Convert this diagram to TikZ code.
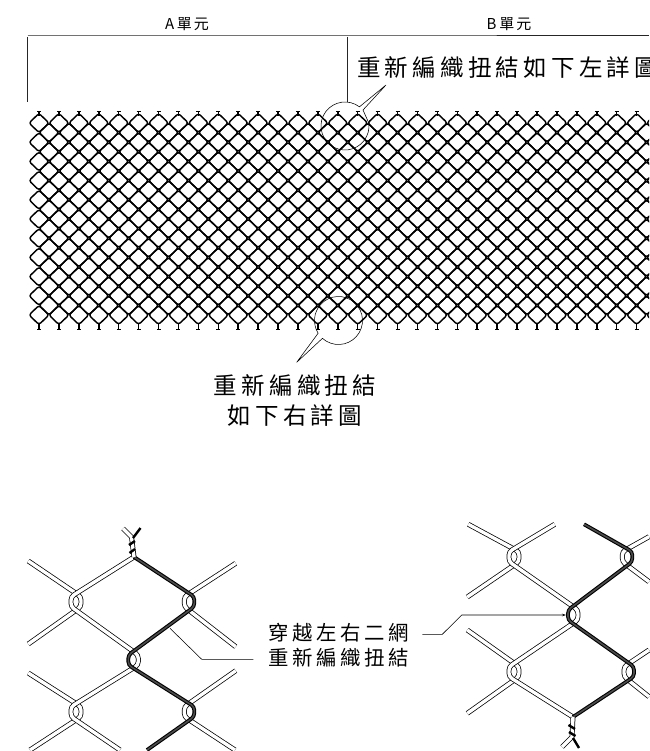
\documentclass[tikz,border=0pt]{standalone}
\usepackage{fontspec}
\newfontfamily\cjk[LetterSpace=18]{Noto Sans CJK TC}
\usetikzlibrary{arrows.meta, positioning}
\tikzset{
  meshcell/.style={draw=black, line width=1.45pt, rounded corners=2.5pt},
  tickmark/.style={draw=black, line width=1.5pt},
  thinline/.style={draw=black, line width=0.55pt},
  frameline/.style={draw=black!85, line width=0.9pt},
  wire/.style={draw=black, line width=0.75pt, double=white, double distance=3.4pt,
               rounded corners=3.5pt},
  newwire/.style={draw=black, line width=1.1pt, double=black!70, double distance=1.6pt,
                  rounded corners=3.5pt},
  twistline/.style={draw=black, line width=2.4pt},
  bigtext/.style={font=\cjk\fontsize{23.5}{30}\selectfont, align=center, inner sep=0pt},
  midtext/.style={font=\cjk\fontsize{20.4}{25}\selectfont, align=center, inner sep=0pt},
  headtext/.style={font=\cjk\fontsize{15}{16}\selectfont, inner sep=0pt},
}
\begin{document}
\begin{tikzpicture}[x=1pt, y=-1pt]
  \useasboundingbox (0,0) rectangle (649,751);
  % header frame
  \node[headtext] (heada) at (187,24) {A單\hspace{2pt}元};
  \node[headtext] (headb) at (509,24) {B單\hspace{2pt}元};
  \coordinate (frameleft) at (27.7,35);
  \coordinate (framemid) at (347.7,35);
  \coordinate (frameright) at (649,35);
  \coordinate (leftfoot) at (27.7,102);
  \coordinate (midfoot) at (347.7,102);
  \draw[frameline] (frameleft) -- (framemid) -- (frameright);
  \draw[frameline] ([yshift=-2]frameleft) -- (leftfoot);
  \draw[frameline] ([yshift=-2]framemid) -- (midfoot);
  % mesh
  \begin{scope}
    \clip (0,100) rectangle (649,340);
    \foreach \i in {0,...,31}{
      \foreach \j in {0,...,10}{
        \draw[meshcell] (39+19.92*\i-9.96,123+19.2*\j) -- (39+19.92*\i,113.4+19.2*\j)
          -- (39+19.92*\i+9.96,123+19.2*\j) -- (39+19.92*\i,132.6+19.2*\j) -- cycle;
      }
      \foreach \j in {0,...,9}{
        \draw[meshcell] (49+19.92*\i-9.96,132.6+19.2*\j) -- (49+19.92*\i,123+19.2*\j)
          -- (49+19.92*\i+9.96,132.6+19.2*\j) -- (49+19.92*\i,142.2+19.2*\j) -- cycle;
      }
      \draw[tickmark] (39+19.92*\i,111.5) -- (39+19.92*\i,116);
      \draw[tickmark] (37+19.92*\i,111.5) -- (41+19.92*\i,111.5);
      \draw[tickmark] (39+19.92*\i,323) -- (39+19.92*\i,329.5);
      \draw[tickmark] (37+19.92*\i,329.5) -- (41+19.92*\i,329.5);
    }
  \end{scope}
  % callout rings
  \coordinate (ringa) at (345,126);
  \coordinate (tipa) at (386,85);
  \coordinate (ringb) at (338.5,320.5);
  \coordinate (tipb) at (296.7,362.3);
  \draw[thinline] (tipa) -- ([shift={(-53:24)}]ringa) arc[start angle=-53, end angle=-367, radius=24]
    -- (363,110) -- cycle;
  \draw[thinline] (tipb) -- ([shift={(-228:24)}]ringb) arc[start angle=-228, end angle=-572, radius=24]
    -- cycle;
  \node[bigtext, anchor=west] (notea) at (357,68) {重新編織扭結如下左詳圖};
  \node[bigtext] (noteb) at (295,401) {重新編織扭結\\如下右詳圖};
  % bend points of both details
  \foreach \k/\x/\y in {B/76/601.7, C/189.3/601.7, D/133.3/660, E/76/711.7, F/189.3/711.7,
                        P/514/556.7, Q/627.3/556.7, R/573/615, S/514/671.7, T/629/671.7}{
    \coordinate (\k lt) at (\x-5,\y-5);
    \coordinate (\k lb) at (\x-5,\y+5);
    \coordinate (\k rt) at (\x+5,\y-5);
    \coordinate (\k rb) at (\x+5,\y+5);
  }
  \foreach \k/\x/\y in {A/134/557, a1/28.3/561, a2/28.3/644, a3/28.3/673, a4/30/750, a5/120/750,
                        a6/235.7/563.3, a7/235.7/646.7, a8/235.7/670.7, a9/235/750, a0/147/750,
                        U/573/717, b1/468.3/524.3, b2/554.7/524.3, b3/467.3/597, b4/467.3/630,
                        b5/467.3/713.3, b6/584/524.3, b7/649/536.7, b8/649/581.7, b9/649/650,
                        b0/649/696.7}{
    \coordinate (\k) at (\x,\y);
  }
  % left detail
  \draw[wire] (a1) -- (Brt) -- (Brb) -- (a2);
  \draw[wire] (a3) -- (Ert) -- (Erb) -- (a4);
  \draw[wire] (a6) -- (Clt) -- (Clb) -- (a7);
  \draw[wire] (a8) -- (Flt) -- (Flb) -- (a9);
  \draw[wire] (A) -- (Blt) -- (Blb) -- (Drt) -- (Drb) -- (Elt) -- (Elb) -- (a5);
  \draw[newwire] (A) -- (Crt) -- (Crb) -- (Dlt) -- (Dlb) -- (Frt) -- (Frb) -- (a0);
  % right detail
  \draw[wire] (b1) -- (Prt) -- (Prb) -- (b3);
  \draw[wire] (b4) -- (Srt) -- (Srb) -- (b5);
  \draw[wire] (b7) -- (Qlt) -- (Qlb) -- (b8);
  \draw[wire] (b9) -- (Tlt) -- (Tlb) -- (b0);
  \draw[wire] (b2) -- (Plt) -- (Plb) -- (Rrt) -- (Rrb) -- (Slt) -- (Slb) -- (U);
  \draw[newwire] (b6) -- (Qrt) -- (Qrb) -- (Rlt) -- (Rlb) -- (Trt) -- (Trb) -- (U);
  % twisted ends
  \coordinate (twa) at (131.5,537);
  \coordinate (twb) at (572,737);
  \draw[wire, rounded corners=0pt] (A) -- (twa) -- (123,528.5);
  \draw[twistline] (140.5,528) -- (133,538);
  \draw[twistline] (129,545) -- (135,541);
  \draw[twistline] (129.5,553) -- (135,549);
  \draw[wire, rounded corners=0pt] (U) -- (twb) -- (562,747);
  \draw[twistline] (579,748) -- (573,738);
  \draw[twistline] (568.5,725) -- (575,729);
  \draw[twistline] (569,732) -- (575.5,736);
  % leaders
  \node[midtext] (noted) at (339,645.5) {穿越左右二網\\重新編織扭結};
  \coordinate (leadl1) at (253.3,659.3);
  \coordinate (leadl2) at (201.7,659.3);
  \coordinate (leadl3) at (170,628.3);
  \coordinate (leadr1) at (422.3,634.3);
  \coordinate (leadr2) at (442.3,634.3);
  \coordinate (leadr3) at (461.7,615);
  \coordinate (leadr4) at (566,615);
  \draw[thinline] (leadl1) -- (leadl2) -- (leadl3);
  \draw[thinline, -{Stealth[length=4pt, width=2.5pt]}] (leadr1) -- (leadr2) -- (leadr3) -- (leadr4);
\end{tikzpicture}
\end{document}
